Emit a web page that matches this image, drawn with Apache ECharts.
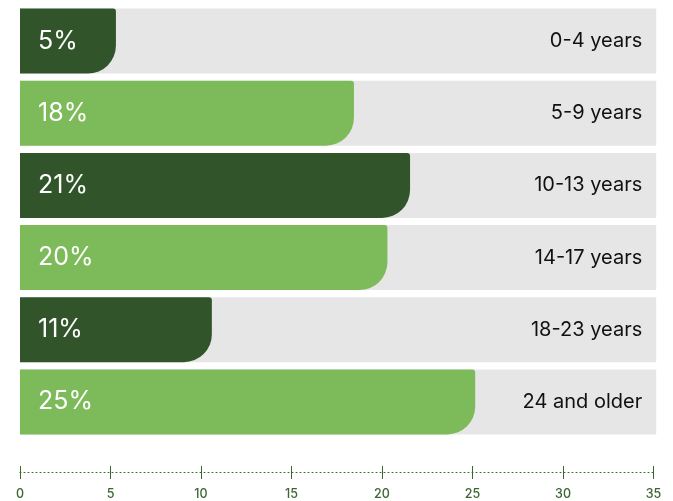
<!DOCTYPE html>
<html>
<head>
<meta charset="utf-8">
<script src="https://cdn.jsdelivr.net/npm/echarts@6/dist/echarts.min.js"></script>
<style>
html,body{margin:0;padding:0;background:#fff;}
#c{width:673px;height:501px;}
</style>
</head>
<body>
<div id="c"></div>
<script>
var categories = ['0-4 years','5-9 years','10-13 years','14-17 years','18-23 years','24 and older'];
var shares = [5, 18, 21, 20, 11, 25];
var barLengths = [5.3, 18.45, 21.55, 20.3, 10.6, 25.15];
var trackLength = 35.15;
var xTicks = [0, 5, 10, 15, 20, 25, 30, 35];

var DARK = '#31542a', LIGHT = '#7dba5a', GRAY = '#e6e6e6', AXIS = '#3b6632';
var FONT = 'Inter, "Noto Sans", sans-serif';

var chart = echarts.init(document.getElementById('c'), null, {renderer:'canvas'});
var common = {
  type: 'value', min: xTicks[0], max: xTicks[xTicks.length-1], interval: 5,
  position: 'bottom', offset: 34, splitLine: {show:false}
};
chart.setOption({
  animation: false,
  grid: {left: 20, right: 19.5, top: 5, bottom: 62, containLabel: false},
  xAxis: [
    Object.assign({}, common, {
      axisLine: {show: true, lineStyle: {color: AXIS, type: [1, 3], width: 1}},
      axisTick: {show: true, inside: false, length: 7, lineStyle: {color: AXIS, width: 1}},
      axisLabel: {show: true, margin: 16, color: AXIS, fontSize: 12.5, fontWeight: 500, fontFamily: FONT}
    }),
    Object.assign({}, common, {
      axisLine: {show: false},
      axisTick: {show: true, inside: true, length: 6, lineStyle: {color: AXIS, width: 1}},
      axisLabel: {show: false}
    })
  ],
  yAxis: {
    type: 'category', data: categories, inverse: true,
    axisLine: {show:false}, axisTick: {show:false}, axisLabel: {show:false}
  },
  series: [{
    type: 'bar',
    xAxisIndex: 0,
    barWidth: 65,
    silent: true,
    clip: false,
    itemStyle: {color: GRAY},
    data: categories.map(function(){ return trackLength; }),
    label: {
      show: true, position: 'insideRight', distance: 14,
      color: '#111111', fontSize: 20, fontFamily: FONT,
      formatter: function(p){ return categories[p.dataIndex]; }
    },
    z: 1
  }, {
    type: 'bar',
    xAxisIndex: 0,
    barWidth: 65,
    barGap: '-100%',
    data: barLengths.map(function(v, i){
      return {value: v, itemStyle: {color: i % 2 === 0 ? DARK : LIGHT, borderRadius: [0, 3, 28, 0]}};
    }),
    label: {
      show: true, position: 'insideLeft', distance: 18,
      color: '#ffffff', fontSize: 25, fontFamily: FONT,
      formatter: function(p){ return shares[p.dataIndex] + '%'; }
    },
    z: 2
  }]
});
</script>
</body>
</html>
